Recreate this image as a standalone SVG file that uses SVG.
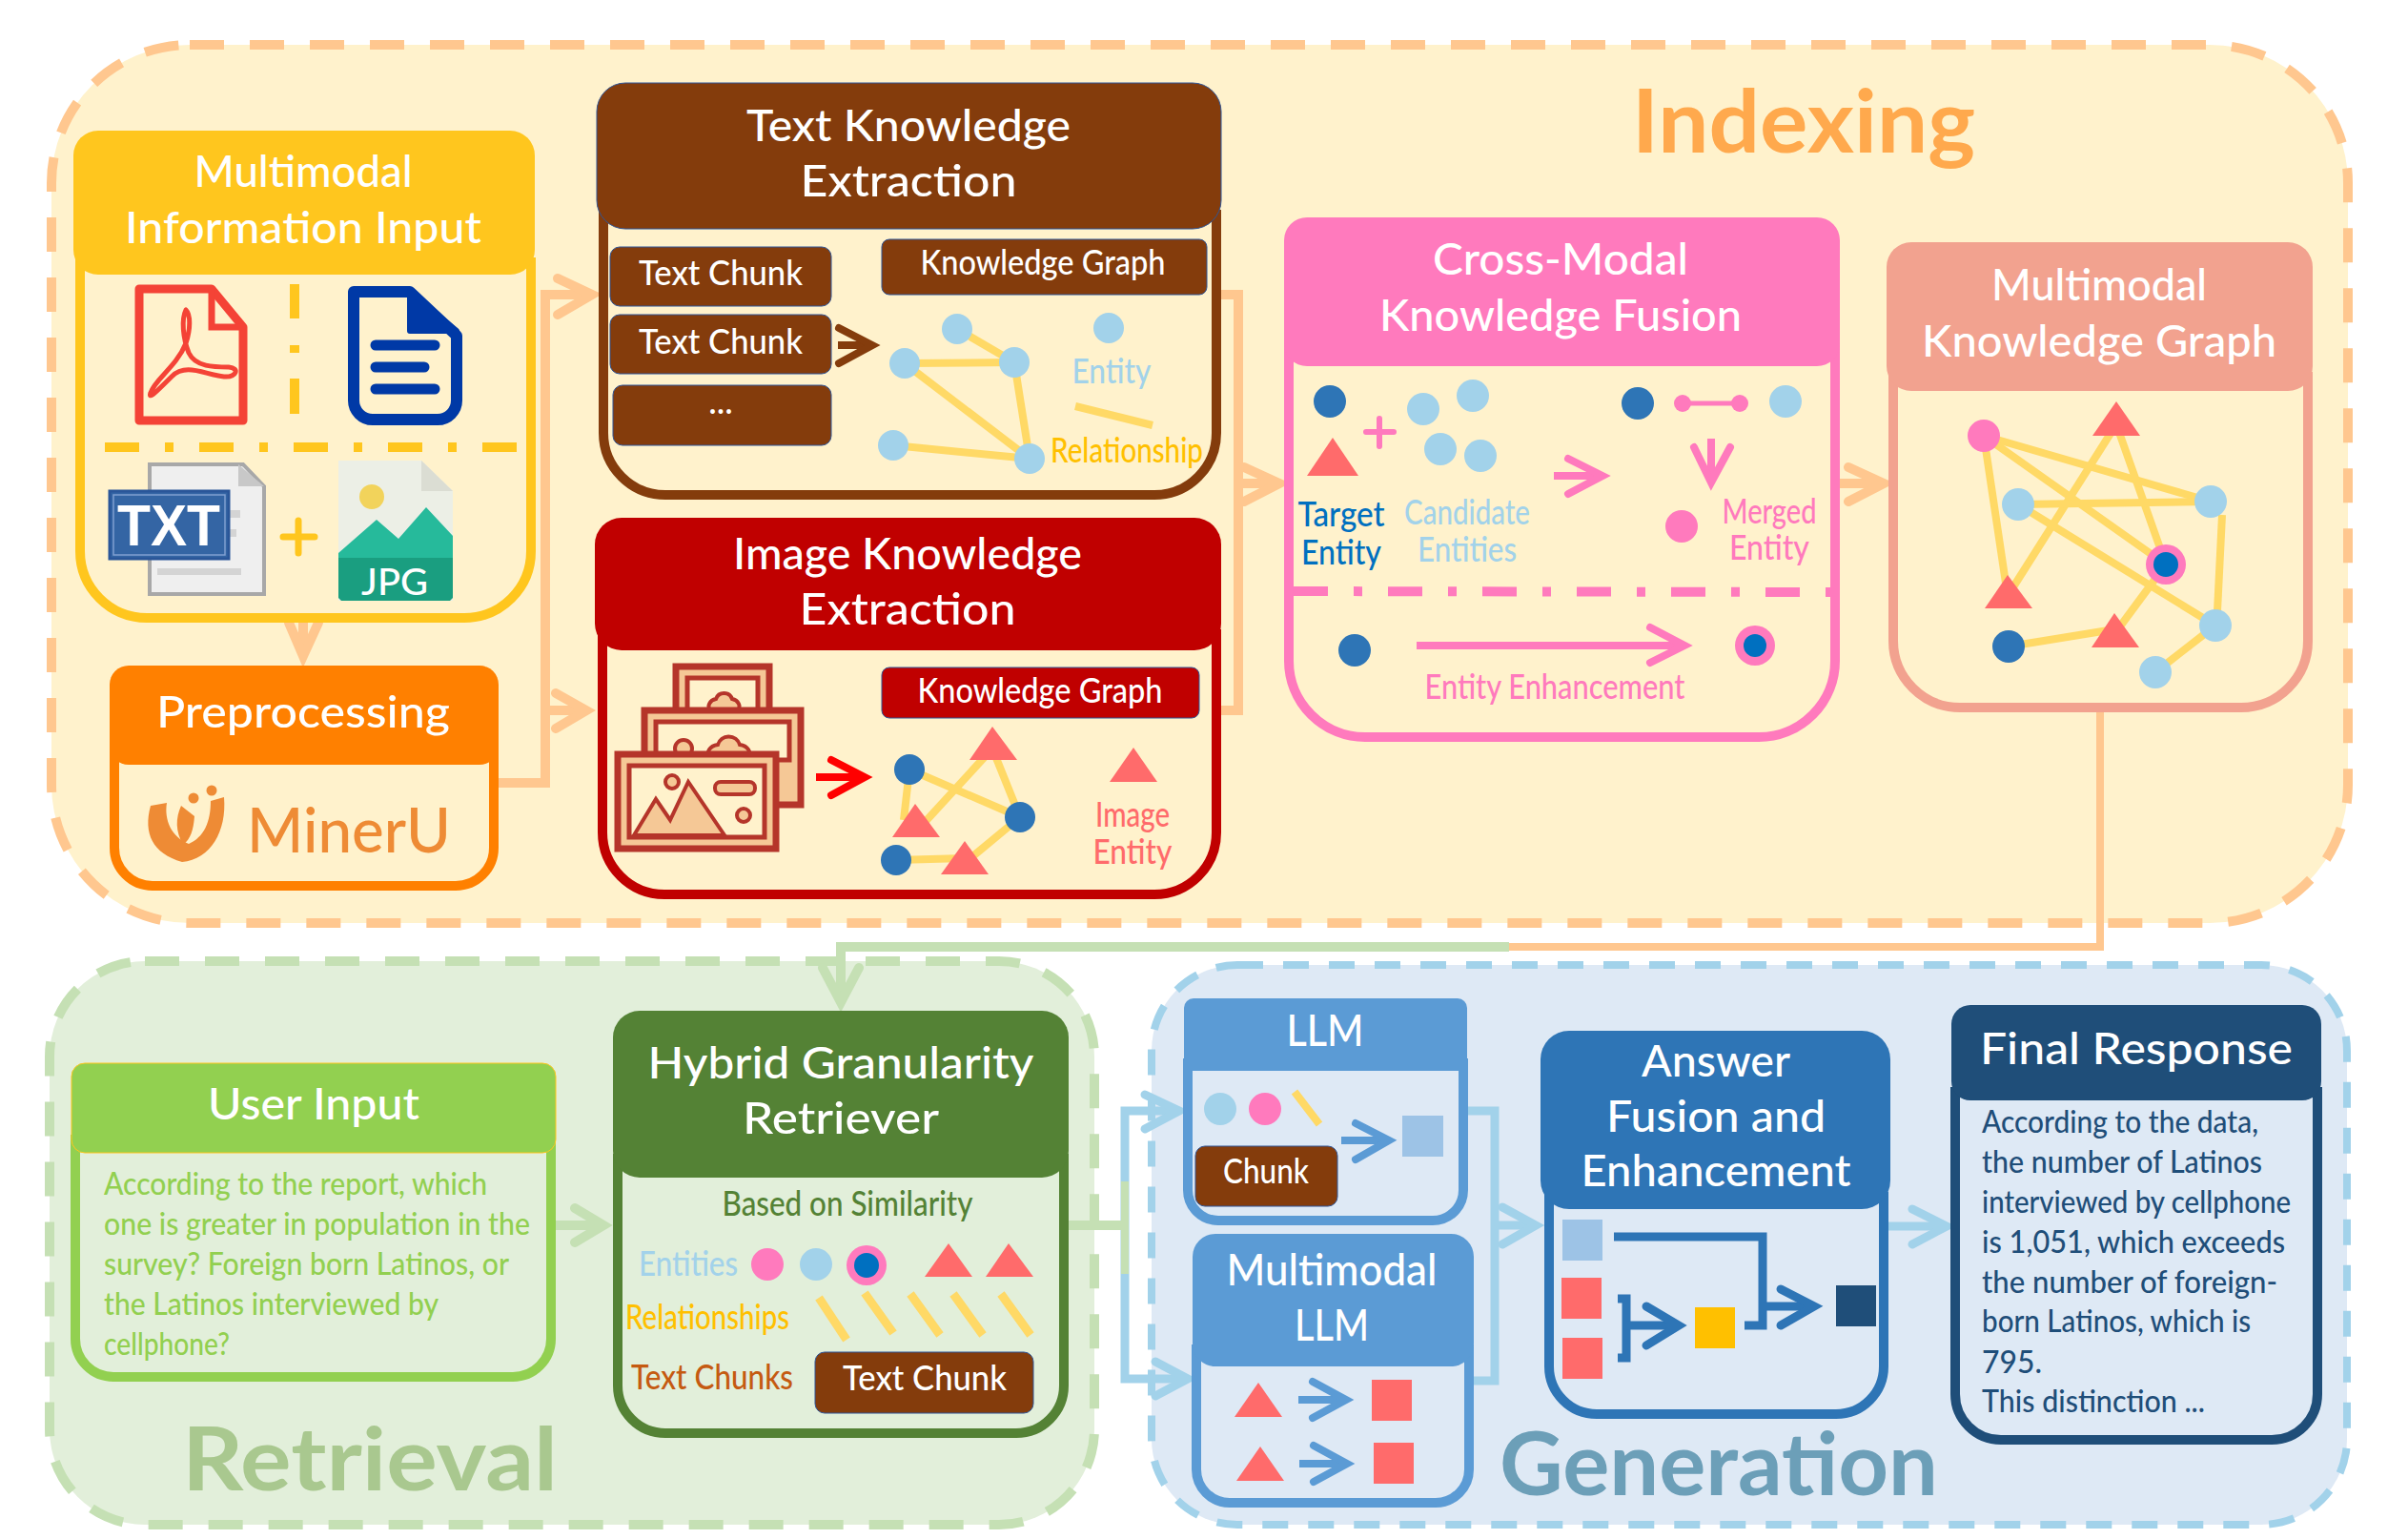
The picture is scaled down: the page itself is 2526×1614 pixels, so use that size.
<svg xmlns="http://www.w3.org/2000/svg" width="2526" height="1614" viewBox="0 0 2526 1614">
<style>
text{font-family:"Lato","Noto Sans",sans-serif;text-anchor:middle;font-weight:500}
.l{text-anchor:start}
.h{font-size:46px;fill:#fff;transform:translateY(3px)}
.s{font-size:36px;transform:translateY(2px)}
.w{fill:#fff}
.big{font-size:92px;font-weight:700;transform:translateY(4px)}
.b{fill:none;stroke-width:10;stroke-linejoin:round}
.ln{fill:none;stroke-linejoin:miter}
.ar{fill:none;stroke-linecap:round;stroke-linejoin:miter}
.e{stroke:#FFD966;stroke-width:8;fill:none}
.lb{fill:#A2D2EA}.db{fill:#2E75B6}.pk{fill:#FF7ABD}.tr{fill:#FF6B6B}
.o{stroke:#FFC78F;stroke-width:10}
.g{stroke:#C5E0B4;stroke-width:10}
.c{stroke:#A2D2EA;stroke-width:9}
.dd{fill:none;stroke-width:10;stroke-dasharray:36 27 9 27}
.ic{fill:#F5C896;stroke:#B5352A;stroke-width:7}
.br{fill:#843C0C;stroke:#2F5597;stroke-width:1}
</style>

<g id="panels">
<rect id="panel-indexing" x="54" y="47" width="2409" height="921" rx="145" fill="#FFF2CC" stroke="#FFC78F" stroke-width="10" stroke-dasharray="36 27"/>
<rect id="panel-retrieval" x="52" y="1008" width="1096" height="591" rx="100" fill="#E2EFDA" stroke="#C5E0B4" stroke-width="10" stroke-dasharray="36 27"/>
<rect id="panel-generation" x="1208" y="1012" width="1254" height="587" rx="90" fill="#DEE9F5" stroke="#A2D2EA" stroke-width="8" stroke-dasharray="27 21"/>
<text x="1892" y="156" class="big" fill="#FFA94D" textLength="360" lengthAdjust="spacingAndGlyphs">Indexing</text>
<text x="388" y="1559" class="big" fill="#A9C88F" textLength="394" lengthAdjust="spacingAndGlyphs">Retrieval</text>
<text x="1803" y="1564" class="big" fill="#6C9FB8" textLength="460" lengthAdjust="spacingAndGlyphs">Generation</text>
</g>

<g id="connectors">
<polyline class="ar o" points="318,649 318,685"/><polyline class="ar o" points="303,653 318,688 334,653"/>
<polyline class="ln o" points="523,821 572,821 572,309 615,309"/><polyline class="ar o" points="585,292 621,309 585,330"/>
<polyline class="ln o" points="572,745 609,745"/><polyline class="ar o" points="583,727 615,745 583,764"/>
<polyline class="ln o" points="1281,309 1299,309 1299,745 1281,745"/>
<polyline class="ln o" points="1299,507 1336,507"/><polyline class="ar o" points="1305,490 1342,507 1305,526"/>
<polyline class="ln o" points="1924,507 1970,507"/><polyline class="ar o" points="1939,490 1976,507 1939,526"/>
<polyline class="ln" stroke="#FFC78F" stroke-width="8" points="2203,747 2203,993 880,993"/>
<polyline class="ln g" points="1583,993 882,993 882,1045"/><polyline class="ar g" points="863,1015 882,1051 901,1015"/>
<polyline class="ln g" points="583,1285 627,1285"/><polyline class="ar g" points="603,1267 633,1285 603,1303"/>
<polyline class="ln c" points="1231,1165 1180,1165 1180,1446 1240,1446"/>
<polyline class="ar c" points="1201,1148 1237,1165 1201,1184"/><polyline class="ar c" points="1212,1428 1246,1446 1212,1464"/>
<polyline class="ln g" points="1116,1285 1181,1285"/><line class="g" x1="1180" y1="1239" x2="1180" y2="1336" style="stroke-width:8"/>
<polyline class="ln c" points="1535,1165 1568,1165 1568,1448 1541,1448"/>
<polyline class="ln c" points="1568,1285 1605,1285"/><polyline class="ar c" points="1576,1266 1611,1285 1576,1305"/>
<polyline class="ln c" points="1978,1286 2036,1286"/><polyline class="ar c" points="2006,1268 2042,1286 2006,1305"/>
</g>

<g id="node-input">
<path class="b" stroke="#FFC61E" fill="none" d="M84 270V578A70 70 0 0 0 154 648H487A70 70 0 0 0 557 578V270"/>
<rect x="77" y="137" width="484" height="151" rx="26" fill="#FFC61E"/>
<text class="h" x="318" y="193" textLength="229" lengthAdjust="spacingAndGlyphs">Multimodal</text>
<text class="h" x="318" y="252" textLength="374" lengthAdjust="spacingAndGlyphs">Information Input</text>
<path d="M146 303H222L255 343V441H146Z" fill="none" stroke="#F44336" stroke-width="9" stroke-linejoin="round"/>
<path d="M222 303V343H255" fill="none" stroke="#F44336" stroke-width="7"/>
<path d="M195 325C190 335 192 355 198 370C205 385 225 385 240 385C252 386 248 396 235 395C215 393 195 380 180 395C165 410 155 420 158 412C162 398 185 385 195 360C200 345 200 330 195 325Z" fill="none" stroke="#F44336" stroke-width="5" stroke-linejoin="round"/>
<path d="M371 306H430L479 352V420A20 20 0 0 1 459 440H391A20 20 0 0 1 371 420Z" fill="none" stroke="#0039A6" stroke-width="12" stroke-linejoin="round"/>
<path d="M430 306V347H479Z" fill="#0039A6" stroke="#0039A6" stroke-width="6" stroke-linejoin="round"/>
<g stroke="#0039A6" stroke-width="11" stroke-linecap="round"><line x1="394" y1="362" x2="456" y2="362"/><line x1="394" y1="385" x2="445" y2="385"/><line x1="394" y1="408" x2="456" y2="408"/></g>
<g stroke="#FFC61E" stroke-width="10"><line x1="309" y1="298" x2="309" y2="334"/><line x1="309" y1="362" x2="309" y2="370"/><line x1="309" y1="397" x2="309" y2="434"/></g>
<line class="dd" stroke="#FFC61E" x1="110" y1="469" x2="543" y2="469"/>
<path d="M157 487H255L277 510V623H157Z" fill="#EFEFEF" stroke="#A8A8A8" stroke-width="4"/>
<path d="M250 487L277 510H250Z" fill="#C8C8C8"/>
<g fill="#D4D4D4"><rect x="240" y="535" width="12" height="8"/><rect x="240" y="555" width="8" height="8"/><rect x="165" y="596" width="88" height="7"/></g>
<rect x="115" y="515" width="125" height="71" fill="#3465A4" stroke="#2A5699" stroke-width="3"/>
<rect x="119" y="519" width="117" height="63" fill="none" stroke="#7F9FD0" stroke-width="1.5"/>
<text x="177" y="572" font-size="62" class="w" style="font-family:'Liberation Sans',sans-serif;font-weight:700" textLength="108" lengthAdjust="spacingAndGlyphs">TXT</text>
<path d="M297 563H330M313 546V580" stroke="#FFC61E" stroke-width="7" stroke-linecap="round" fill="none"/>
<path d="M355 483H442L475 515V630H355Z" fill="#ECEFE6"/><path d="M442 483L475 515H442Z" fill="#DBDDD3"/>
<ellipse cx="390" cy="521" rx="13" ry="13" fill="#F2D35B"/>
<path d="M355 585V580L395 545L418 565L447 532L475 562V585Z" fill="#26BA9B"/>
<path d="M355 585H475V627L472 630H358L355 627Z" fill="#1A9E80"/>
<text x="414" y="624" font-size="38" class="w" textLength="70" lengthAdjust="spacingAndGlyphs">JPG</text>
</g>

<g id="node-preprocessing">
<path class="b" stroke="#FF8000" d="M120 780V889A40 40 0 0 0 160 929H478A40 40 0 0 0 518 889V780"/>
<rect x="115" y="698" width="408" height="104" rx="20" fill="#FF8000"/>
<text class="h" x="318" y="760" textLength="308" lengthAdjust="spacingAndGlyphs">Preprocessing</text>
<path d="M158 845C150 874 160 895 191 904C221 901 238 872 235 836L221 840C221 862 214 878 198 885C180 878 172 860 175 842L158 845Z" fill="#EE8B35"/>
<path d="M190 845L204 856C203 870 200 880 192 886C184 872 184 858 190 845Z" fill="#EE8B35"/>
<circle cx="203" cy="837" r="5.5" fill="#EE8B35"/><circle cx="222" cy="829" r="5.5" fill="#EE8B35"/>
<text x="366" y="894" font-size="66" fill="#EE8B35" textLength="214" lengthAdjust="spacingAndGlyphs">MinerU</text>
</g>

<g id="node-text-ke">
<path class="b" stroke="#843C0C" d="M633 220V454A65 65 0 0 0 698 519H1211A65 65 0 0 0 1276 454V220"/>
<rect class="br" x="626" y="87" width="655" height="153" rx="30"/>
<text class="h" x="953" y="145" textLength="340" lengthAdjust="spacingAndGlyphs">Text Knowledge</text>
<text class="h" x="953" y="203" textLength="227" lengthAdjust="spacingAndGlyphs">Extraction</text>
<rect class="br" x="640" y="259" width="232" height="62" rx="10"/>
<rect class="br" x="640" y="330" width="232" height="62" rx="10"/>
<rect class="br" x="643" y="404" width="229" height="63" rx="10"/>
<text class="s w" x="756" y="297" textLength="172" lengthAdjust="spacingAndGlyphs">Text Chunk</text>
<text class="s w" x="756" y="369" textLength="172" lengthAdjust="spacingAndGlyphs">Text Chunk</text>
<text class="s w" x="756" y="432">...</text>
<rect class="br" x="925" y="251" width="341" height="58" rx="8"/>
<text class="s w" x="1094" y="286" textLength="257" lengthAdjust="spacingAndGlyphs">Knowledge Graph</text>
<line x1="879" y1="362" x2="908" y2="362" stroke="#843C0C" stroke-width="8"/>
<polyline class="ar" stroke="#843C0C" stroke-width="8" points="880,344 915,362 880,381"/>
<g class="e"><line x1="1004" y1="345" x2="1064" y2="380"/><line x1="949" y1="381" x2="1064" y2="380"/><line x1="949" y1="381" x2="1080" y2="481"/><line x1="1064" y1="380" x2="1080" y2="481"/><line x1="937" y1="467" x2="1080" y2="481"/><line x1="1128" y1="426" x2="1209" y2="446"/></g>
<g class="lb"><circle cx="1004" cy="345" r="16"/><circle cx="949" cy="381" r="16"/><circle cx="1064" cy="380" r="16"/><circle cx="937" cy="467" r="16"/><circle cx="1080" cy="481" r="16"/><circle cx="1163" cy="344" r="16"/></g>
<text class="s" x="1166" y="400" fill="#A2D2EA" textLength="83" lengthAdjust="spacingAndGlyphs">Entity</text>
<text class="s" x="1182" y="483" fill="#FFC000" textLength="160" lengthAdjust="spacingAndGlyphs">Relationship</text>
</g>

<g id="node-image-ke">
<path class="b" stroke="#C00000" d="M632 660V873A65 65 0 0 0 697 938H1211A65 65 0 0 0 1276 873V660"/>
<rect x="624" y="543" width="657" height="139" rx="28" fill="#C00000"/>
<text class="h" x="952" y="594" textLength="366" lengthAdjust="spacingAndGlyphs">Image Knowledge</text>
<text class="h" x="952" y="652" textLength="227" lengthAdjust="spacingAndGlyphs">Extraction</text>
<rect x="925" y="700" width="333" height="53" rx="8" fill="#C00000" stroke="#2F5597" stroke-width="1"/>
<text class="s w" x="1091" y="735" textLength="257" lengthAdjust="spacingAndGlyphs">Knowledge Graph</text>
<rect class="ic" x="709" y="699" width="98" height="50"/><rect x="721" y="711" width="74" height="40" fill="#FFF2CC" stroke="#B5352A" stroke-width="5"/>
<path d="M745 745a10 8 0 0 1 6-12a9 9 0 0 1 17 0a10 8 0 0 1 6 12Z" class="ic" style="stroke-width:4"/>
<rect class="ic" x="676" y="745" width="164" height="99"/><rect x="688" y="757" width="140" height="40" fill="#FFF2CC" stroke="#B5352A" stroke-width="5"/>
<circle cx="717" cy="785" r="9" class="ic" style="stroke-width:4"/><path d="M745 795a12 9 0 0 1 8-14a12 12 0 0 1 23 0a12 9 0 0 1 8 14Z" class="ic" style="stroke-width:4"/>
<rect class="ic" x="648" y="791" width="166" height="99"/><rect x="660" y="803" width="142" height="75" fill="#FFF2CC" stroke="#B5352A" stroke-width="5"/>
<path d="M665 876L688 838L703 860L722 820L760 876Z" class="ic" style="stroke-width:4"/>
<circle cx="705" cy="820" r="7" class="ic" style="stroke-width:4"/><rect x="750" y="820" width="42" height="13" rx="6" class="ic" style="stroke-width:4"/>
<circle cx="780" cy="855" r="7" class="ic" style="stroke-width:4"/>
<line x1="856" y1="815" x2="901" y2="815" stroke="#FF0000" stroke-width="8"/>
<polyline class="ar" stroke="#FF0000" stroke-width="8" points="872,797 907,815 872,834"/>
<g class="e"><line x1="954" y1="807" x2="1070" y2="857"/><line x1="954" y1="807" x2="948" y2="860"/><line x1="1041" y1="785" x2="963" y2="870"/><line x1="1041" y1="785" x2="1070" y2="857"/><line x1="1070" y1="857" x2="1012" y2="905"/><line x1="940" y1="902" x2="1012" y2="900"/></g>
<g class="db"><circle cx="954" cy="807" r="16"/><circle cx="1070" cy="857" r="16"/><circle cx="940" cy="902" r="16"/></g>
<g class="tr"><polygon points="1041,762 1017,797 1067,797"/><polygon points="960,843 936,878 986,878"/><polygon points="1012,882 987,917 1037,917"/><polygon points="1189,784 1164,820 1214,820"/></g>
<text class="s" x="1188" y="865" fill="#FF6B6B" textLength="78" lengthAdjust="spacingAndGlyphs">Image</text>
<text class="s" x="1188" y="904" fill="#FF6B6B" textLength="83" lengthAdjust="spacingAndGlyphs">Entity</text>
</g>

<g id="node-fusion">
<path class="b" stroke="#FF7ABD" d="M1352 360V693A80 80 0 0 0 1432 773H1845A80 80 0 0 0 1925 693V360"/>
<rect x="1347" y="228" width="583" height="156" rx="24" fill="#FF7ABD"/>
<text class="h" x="1637" y="285" textLength="268" lengthAdjust="spacingAndGlyphs">Cross-Modal</text>
<text class="h" x="1637" y="344" textLength="380" lengthAdjust="spacingAndGlyphs">Knowledge Fusion</text>
<g class="db"><circle cx="1395" cy="421" r="17"/><circle cx="1718" cy="423" r="17"/><circle cx="1421" cy="682" r="17"/></g>
<polygon class="tr" points="1398,459 1371,499 1425,499"/>
<path d="M1433 453H1462M1447 439V468" stroke="#FF7ABD" stroke-width="6" stroke-linecap="round" fill="none"/>
<g class="lb"><circle cx="1493" cy="429" r="17"/><circle cx="1545" cy="415" r="17"/><circle cx="1511" cy="471" r="17"/><circle cx="1553" cy="478" r="17"/><circle cx="1873" cy="421" r="17"/></g>
<text class="s" x="1407" y="550" fill="#0070C0" textLength="91" lengthAdjust="spacingAndGlyphs">Target</text>
<text class="s" x="1407" y="590" fill="#0070C0" textLength="84" lengthAdjust="spacingAndGlyphs">Entity</text>
<text class="s" x="1539" y="548" fill="#A2D2EA" textLength="132" lengthAdjust="spacingAndGlyphs">Candidate</text>
<text class="s" x="1539" y="587" fill="#A2D2EA" textLength="104" lengthAdjust="spacingAndGlyphs">Entities</text>
<g stroke="#FF7ABD" stroke-width="8" fill="none">
<line x1="1630" y1="499" x2="1675" y2="499"/><polyline class="ar" points="1645,481 1681,499 1645,518"/>
<line x1="1795" y1="460" x2="1795" y2="500"/><polyline class="ar" points="1777,469 1795,506 1815,469"/>
<line x1="1486" y1="677" x2="1761" y2="677"/><polyline class="ar" points="1731,658 1767,677 1731,695"/>
<line x1="1765" y1="423" x2="1825" y2="423" stroke-width="5"/></g>
<g class="pk"><circle cx="1765" cy="423" r="9"/><circle cx="1825" cy="423" r="9"/><circle cx="1764" cy="552" r="17"/><circle cx="1841" cy="677" r="21"/></g>
<circle cx="1841" cy="677" r="12" fill="#0070C0"/>
<text class="s" x="1856" y="547" fill="#FF7ABD" textLength="99" lengthAdjust="spacingAndGlyphs">Merged</text>
<text class="s" x="1856" y="585" fill="#FF7ABD" textLength="84" lengthAdjust="spacingAndGlyphs">Entity</text>
<line class="dd" stroke="#FF7ABD" x1="1357" y1="620" x2="1920" y2="621"/>
<text class="s" x="1631" y="731" fill="#FF7ABD" textLength="273" lengthAdjust="spacingAndGlyphs">Entity Enhancement</text>
</g>

<g id="node-mmkg">
<path class="b" stroke="#F2A28F" d="M1986 390V672A70 70 0 0 0 2056 742H2351A70 70 0 0 0 2421 672V390"/>
<rect x="1979" y="254" width="447" height="156" rx="26" fill="#F2A28F"/>
<text class="h" x="2202" y="312" textLength="226" lengthAdjust="spacingAndGlyphs">Multimodal</text>
<text class="h" x="2202" y="371" textLength="372" lengthAdjust="spacingAndGlyphs">Knowledge Graph</text>
<g class="e"><line x1="2081" y1="457" x2="2319" y2="526"/><line x1="2081" y1="457" x2="2272" y2="592"/><line x1="2081" y1="457" x2="2106" y2="625"/><line x1="2220" y1="445" x2="2106" y2="625"/><line x1="2220" y1="445" x2="2272" y2="592"/><line x1="2117" y1="529" x2="2319" y2="526"/><line x1="2117" y1="529" x2="2324" y2="656"/><line x1="2331" y1="540" x2="2326" y2="641"/><line x1="2272" y1="592" x2="2218" y2="665"/><line x1="2107" y1="678" x2="2218" y2="660"/><line x1="2324" y1="656" x2="2261" y2="705"/></g>
<circle cx="2081" cy="457" r="17" class="pk"/>
<g class="lb"><circle cx="2117" cy="529" r="17"/><circle cx="2319" cy="526" r="17"/><circle cx="2324" cy="656" r="17"/><circle cx="2261" cy="705" r="17"/></g>
<circle cx="2272" cy="592" r="21" class="pk"/><circle cx="2272" cy="592" r="13" fill="#0070C0"/>
<circle cx="2107" cy="678" r="17" class="db"/>
<g class="tr"><polygon points="2220,421 2195,457 2245,457"/><polygon points="2106,603 2082,638 2132,638"/><polygon points="2218,643 2194,679 2244,679"/></g>
</g>

<g id="node-user">
<path class="b" stroke="#92D050" d="M79 1190V1404A40 40 0 0 0 119 1444H538A40 40 0 0 0 578 1404V1190"/>
<rect x="75" y="1115" width="508" height="94" rx="14" fill="#92D050" stroke="#FFC61E" stroke-width="1"/>
<text class="h" x="329" y="1171" textLength="222" lengthAdjust="spacingAndGlyphs">User Input</text>
<g font-size="32" fill="#92D050">
<text class="l" x="109" y="1253" textLength="402" lengthAdjust="spacingAndGlyphs">According to the report, which</text>
<text class="l" x="109" y="1295" textLength="447" lengthAdjust="spacingAndGlyphs">one is greater in population in the</text>
<text class="l" x="109" y="1337" textLength="425" lengthAdjust="spacingAndGlyphs">survey? Foreign born Latinos, or</text>
<text class="l" x="109" y="1379" textLength="351" lengthAdjust="spacingAndGlyphs">the Latinos interviewed by</text>
<text class="l" x="109" y="1421" textLength="132" lengthAdjust="spacingAndGlyphs">cellphone?</text>
</g>
</g>

<g id="node-hybrid">
<path class="b" stroke="#548235" d="M648 1210V1453A50 50 0 0 0 698 1503H1066A50 50 0 0 0 1116 1453V1210"/>
<rect x="643" y="1060" width="478" height="175" rx="28" fill="#548235"/>
<text class="h" x="882" y="1128" textLength="405" lengthAdjust="spacingAndGlyphs">Hybrid Granularity</text>
<text class="h" x="882" y="1186" textLength="206" lengthAdjust="spacingAndGlyphs">Retriever</text>
<text class="s" x="889" y="1273" fill="#548235" textLength="263" lengthAdjust="spacingAndGlyphs">Based on Similarity</text>
<text class="s l" x="670" y="1336" fill="#A2D2EA" textLength="104" lengthAdjust="spacingAndGlyphs">Entities</text>
<circle cx="805" cy="1326" r="17" class="pk"/><circle cx="856" cy="1326" r="17" class="lb"/>
<circle cx="909" cy="1327" r="21" class="pk"/><circle cx="909" cy="1327" r="13" fill="#0070C0"/>
<g class="tr"><polygon points="995,1304 970,1339 1020,1339"/><polygon points="1058,1304 1034,1339 1084,1339"/></g>
<text class="s l" x="656" y="1392" fill="#FFC000" textLength="172" lengthAdjust="spacingAndGlyphs">Relationships</text>
<g class="e" style="stroke-width:9"><line x1="859" y1="1361" x2="888" y2="1405"/><line x1="907" y1="1356" x2="937" y2="1398"/><line x1="955" y1="1357" x2="986" y2="1400"/><line x1="1000" y1="1357" x2="1031" y2="1400"/><line x1="1050" y1="1357" x2="1081" y2="1400"/></g>
<text class="s l" x="662" y="1455" fill="#C55A11" textLength="170" lengthAdjust="spacingAndGlyphs">Text Chunks</text>
<rect class="br" x="855" y="1418" width="229" height="64" rx="10"/>
<text class="s w" x="970" y="1456" textLength="172" lengthAdjust="spacingAndGlyphs">Text Chunk</text>
</g>

<g id="node-llm">
<path class="b" stroke="#5B9BD5" d="M1246 1110V1248A32 32 0 0 0 1278 1280H1503A32 32 0 0 0 1535 1248V1110"/>
<path d="M1242 1057A10 10 0 0 1 1252 1047H1529A10 10 0 0 1 1539 1057V1123H1242Z" fill="#5B9BD5"/>
<text class="h" x="1390" y="1094" textLength="81" lengthAdjust="spacingAndGlyphs">LLM</text>
<circle cx="1280" cy="1163" r="17" class="lb"/><circle cx="1327" cy="1163" r="17" class="pk"/>
<line class="e" x1="1358" y1="1145" x2="1384" y2="1179"/>
<rect class="br" x="1254" y="1202" width="149" height="63" rx="10"/>
<text class="s w" x="1328" y="1239" textLength="90" lengthAdjust="spacingAndGlyphs">Chunk</text>
<g fill="none" stroke="#5B9BD5" stroke-width="8"><line x1="1407" y1="1196" x2="1451" y2="1196"/><polyline class="ar" points="1422,1178 1457,1196 1422,1216"/></g>
<rect x="1471" y="1170" width="43" height="43" fill="#9DC3E6"/>
</g>

<g id="node-mm-llm">
<path class="b" stroke="#5B9BD5" d="M1255 1410V1541A35 35 0 0 0 1290 1576H1506A35 35 0 0 0 1541 1541V1410"/>
<rect x="1251" y="1294" width="295" height="139" rx="24" fill="#5B9BD5"/>
<text class="h" x="1397" y="1345" textLength="221" lengthAdjust="spacingAndGlyphs">Multimodal</text>
<text class="h" x="1397" y="1403" textLength="78" lengthAdjust="spacingAndGlyphs">LLM</text>
<g class="tr"><polygon points="1320,1450 1295,1486 1345,1486"/><polygon points="1322,1517 1297,1553 1347,1553"/><rect x="1439" y="1447" width="42" height="43"/><rect x="1441" y="1513" width="42" height="43"/></g>
<g fill="none" stroke="#5B9BD5" stroke-width="8"><line x1="1362" y1="1468" x2="1406" y2="1468"/><polyline class="ar" points="1377,1449 1412,1468 1377,1487"/><line x1="1363" y1="1535" x2="1407" y2="1535"/><polyline class="ar" points="1378,1516 1413,1535 1378,1554"/></g>
</g>

<g id="node-answer">
<path class="b" stroke="#2E75B6" d="M1625 1250V1433A50 50 0 0 0 1675 1483H1926A50 50 0 0 0 1976 1433V1250"/>
<rect x="1616" y="1081" width="367" height="187" rx="30" fill="#2E75B6"/>
<text class="h" x="1800" y="1126" textLength="156" lengthAdjust="spacingAndGlyphs">Answer</text>
<text class="h" x="1800" y="1184" textLength="230" lengthAdjust="spacingAndGlyphs">Fusion and</text>
<text class="h" x="1800" y="1241" textLength="283" lengthAdjust="spacingAndGlyphs">Enhancement</text>
<rect x="1639" y="1279" width="42" height="43" fill="#9DC3E6"/>
<rect x="1638" y="1340" width="42" height="43" class="tr"/><rect x="1639" y="1403" width="42" height="43" class="tr"/>
<rect x="1778" y="1371" width="42" height="43" fill="#FFC000"/><rect x="1926" y="1348" width="42" height="43" fill="#1F4E79"/>
<g fill="none" stroke="#2E75B6" stroke-width="9">
<polyline points="1693,1297 1849,1297 1849,1390 1830,1390"/>
<polyline points="1697,1362 1706,1362 1706,1424 1697,1424"/>
<line x1="1706" y1="1390" x2="1755" y2="1390"/><polyline class="ar" points="1727,1370 1761,1390 1727,1411"/>
<line x1="1849" y1="1370" x2="1897" y2="1370"/><polyline class="ar" points="1868,1352 1903,1370 1868,1390"/>
</g>
</g>

<g id="node-final">
<path class="b" stroke="#1F4E79" d="M2051 1140V1462A48 48 0 0 0 2099 1510H2383A48 48 0 0 0 2431 1462V1140"/>
<rect x="2047" y="1054" width="388" height="100" rx="20" fill="#1F4E79"/>
<text class="h" x="2241" y="1113" textLength="328" lengthAdjust="spacingAndGlyphs">Final Response</text>
<g font-size="32" fill="#1F4E79">
<text class="l" x="2079" y="1188" textLength="290" lengthAdjust="spacingAndGlyphs">According to the data,</text>
<text class="l" x="2079" y="1230" textLength="294" lengthAdjust="spacingAndGlyphs">the number of Latinos</text>
<text class="l" x="2079" y="1272" textLength="324" lengthAdjust="spacingAndGlyphs">interviewed by cellphone</text>
<text class="l" x="2079" y="1314" textLength="318" lengthAdjust="spacingAndGlyphs">is 1,051, which exceeds</text>
<text class="l" x="2079" y="1356" textLength="310" lengthAdjust="spacingAndGlyphs">the number of foreign-</text>
<text class="l" x="2079" y="1397" textLength="282" lengthAdjust="spacingAndGlyphs">born Latinos, which is</text>
<text class="l" x="2079" y="1440" textLength="63" lengthAdjust="spacingAndGlyphs">795.</text>
<text class="l" x="2079" y="1481" textLength="234" lengthAdjust="spacingAndGlyphs">This distinction ...</text>
</g>
</g>
</svg>
